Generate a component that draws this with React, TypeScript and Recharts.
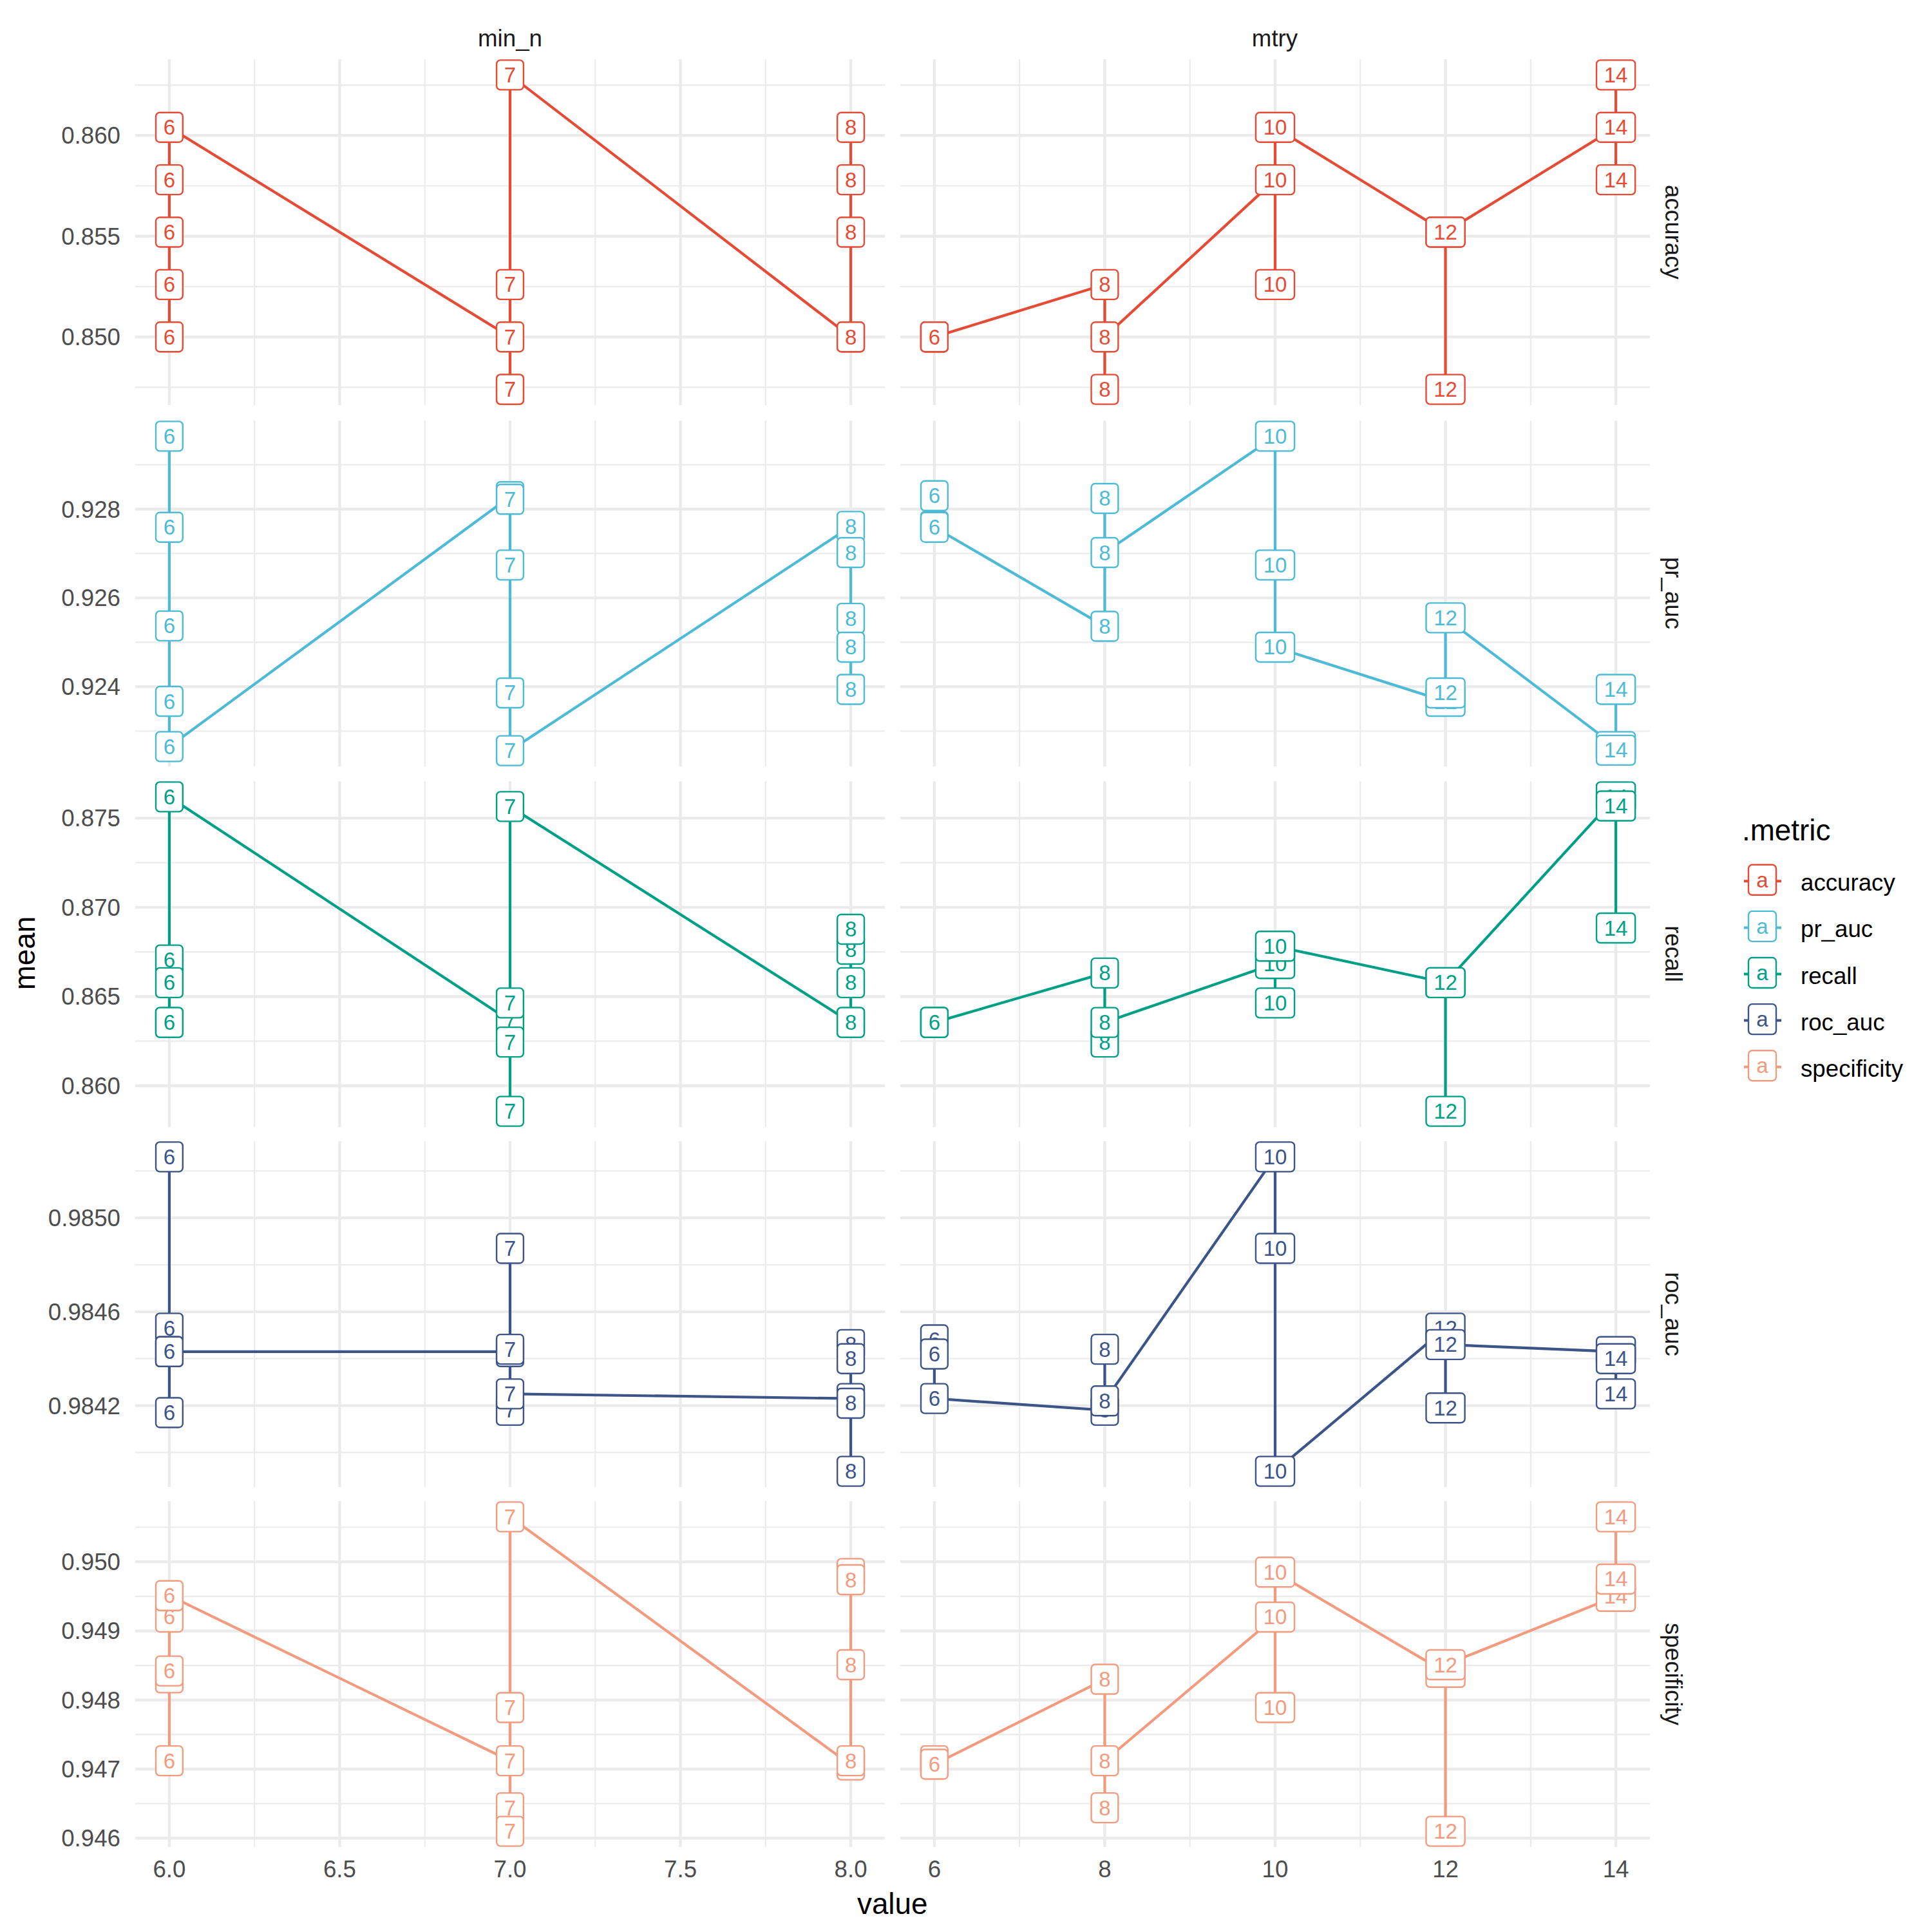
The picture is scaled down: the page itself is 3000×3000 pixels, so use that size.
import React from 'react';
import { LineChart, Line, XAxis, YAxis, CartesianGrid } from 'recharts';

const metrics = ['accuracy', 'pr_auc', 'recall', 'roc_auc', 'specificity'];
const metricColors = ['#E64B35', '#4DBBD5', '#00A087', '#3C5488', '#F39B7F'];
const params = ['min_n', 'mtry'];

const minNLevels = [6, 7, 8];
const mtryLevels = [6, 8, 10, 12, 14];
const minNTicks = [6, 6.5, 7, 7.5, 8];
const minNMinor = [6.25, 6.75, 7.25, 7.75];
const mtryTicks = [6, 8, 10, 12, 14];
const mtryMinor = [7, 9, 11, 13];

// one inner list per level, in the order the line passes through them
const accuracyMinN = [
  [0.85, 0.8526, 0.8552, 0.8578, 0.8604],
  [0.85, 0.8474, 0.8474, 0.8526, 0.863],
  [0.85, 0.85, 0.8552, 0.8578, 0.8604],
];
const accuracyMtry = [
  [0.85, 0.85, 0.85],
  [0.8526, 0.8474, 0.85],
  [0.8578, 0.8526, 0.8604],
  [0.8552, 0.8474, 0.8552],
  [0.8604, 0.863, 0.8578],
];
const prAucMinN = [
  [0.92964, 0.92759, 0.92537, 0.92367, 0.92265],
  [0.92828, 0.92822, 0.92674, 0.92386, 0.92256],
  [0.92761, 0.92702, 0.92554, 0.92489, 0.92394],
];
const prAucMtry = [
  [0.9283, 0.92761, 0.92759],
  [0.92536, 0.92824, 0.92702],
  [0.92964, 0.92674, 0.92489],
  [0.92367, 0.92386, 0.92555],
  [0.92265, 0.92394, 0.92257],
];
const recallMinN = [
  [0.86355, 0.86355, 0.86705, 0.86578, 0.87619],
  [0.86364, 0.86464, 0.86245, 0.85857, 0.87565],
  [0.86355, 0.86355, 0.86765, 0.86877, 0.86578],
];
const recallMtry = [
  [0.86355, 0.86355, 0.86355],
  [0.86632, 0.86245, 0.86355],
  [0.86685, 0.86464, 0.86782],
  [0.86578, 0.85857, 0.86578],
  [0.87619, 0.87568, 0.86884],
];
const rocAucMinN = [
  [0.98526, 0.98417, 0.98453, 0.98443, 0.98443],
  [0.98443, 0.98487, 0.98444, 0.98418, 0.98425],
  [0.98423, 0.98446, 0.9844, 0.98421, 0.98392],
];
const rocAucMtry = [
  [0.98448, 0.98442, 0.98423],
  [0.98418, 0.98444, 0.98422],
  [0.98526, 0.98487, 0.98392],
  [0.98453, 0.98419, 0.98446],
  [0.98443, 0.9844, 0.98425],
];
const specificityMinN = [
  [0.94712, 0.94832, 0.94842, 0.9492, 0.94951],
  [0.94712, 0.94789, 0.94644, 0.9461, 0.95065],
  [0.94706, 0.94712, 0.94851, 0.94983, 0.94974],
];
const specificityMtry = [
  [0.94712, 0.94712, 0.94707],
  [0.9483, 0.94644, 0.94712],
  [0.9492, 0.94789, 0.94985],
  [0.9484, 0.9461, 0.94851],
  [0.9495, 0.95065, 0.94975],
];

const accuracyTicks = [0.85, 0.855, 0.86];
const accuracyMinor = [0.8475, 0.8525, 0.8575, 0.8625];
const prAucTicks = [0.924, 0.926, 0.928];
const prAucMinor = [0.923, 0.925, 0.927, 0.929];
const recallTicks = [0.86, 0.865, 0.87, 0.875];
const recallMinor = [0.8625, 0.8675, 0.8725];
const rocAucTicks = [0.9842, 0.9846, 0.985];
const rocAucMinor = [0.984, 0.9844, 0.9848, 0.9852];
const specificityTicks = [0.946, 0.947, 0.948, 0.949, 0.95];
const specificityMinor = [0.9465, 0.9475, 0.9485, 0.9495, 0.9505];
const tickDigits = [3, 3, 3, 4, 3];

const panelData = [
  [accuracyMinN, accuracyMtry],
  [prAucMinN, prAucMtry],
  [recallMinN, recallMtry],
  [rocAucMinN, rocAucMtry],
  [specificityMinN, specificityMtry],
];
const yMajor = [accuracyTicks, prAucTicks, recallTicks, rocAucTicks, specificityTicks];
const yMinor = [accuracyMinor, prAucMinor, recallMinor, rocAucMinor, specificityMinor];

const FONT = '"Liberation Sans", Arial, Helvetica, sans-serif';
const PANEL_W = 1164;
const PANEL_H = 537;
const COL_LEFT = [210, 1397.5];
const ROW_TOP = [92, 652.5, 1212.5, 1772, 2331];
const PAD = 30;
const Y_AXIS_W = 200;
const X_AXIS_H = 80;
const GRID = '#EBEBEB';
const LABEL_FONT = 33;

const toPoints = (levels: number[], groups: number[][]) =>
  levels.flatMap((x, i) => groups[i].map((y) => ({ x, y })));

// ggplot-style 5% expansion on both sides
const expand = (vals: number[]): [number, number] => {
  const lo = Math.min(...vals);
  const hi = Math.max(...vals);
  const pad = (hi - lo) * 0.05;
  return [lo - pad, hi + pad];
};

function LabelMark(props: any) {
  const { cx, cy, payload, color } = props;
  if (cx == null || cy == null) return <g />;
  const text = String(payload.x);
  const w = 23.5 + 18.3 * text.length;
  const h = 46;
  return (
    <g>
      <rect x={cx - w / 2} y={cy - h / 2} width={w} height={h} rx={6} ry={6} fill="#fff" stroke={color} strokeWidth={2.4} />
      <text x={cx} y={cy} textAnchor="middle" dominantBaseline="central" fontSize={LABEL_FONT} fill={color} fontFamily={FONT}>
        {text}
      </text>
    </g>
  );
}

function Panel({ row, col }: { row: number; col: number }) {
  const levels = col === 0 ? minNLevels : mtryLevels;
  const xMajor = col === 0 ? minNTicks : mtryTicks;
  const xMinor = col === 0 ? minNMinor : mtryMinor;
  const points = toPoints(levels, panelData[row][col]);
  const yDomain = expand([...panelData[row][0].flat(), ...panelData[row][1].flat()]);
  const xDomain = expand(levels);
  const showY = col === 0;
  const showX = row === metrics.length - 1;
  const color = metricColors[row];
  const width = PANEL_W + (showY ? Y_AXIS_W : 0);
  const height = PANEL_H + 2 * PAD + (showX ? X_AXIS_H : 0);
  const tickStyle = { fill: '#4D4D4D', fontSize: 36.7, fontFamily: FONT };

  return (
    <div style={{ position: 'absolute', left: COL_LEFT[col] - (showY ? Y_AXIS_W : 0), top: ROW_TOP[row] - PAD }}>
      <LineChart width={width} height={height} margin={{ top: PAD, right: 0, bottom: PAD, left: 0 }}>
        <CartesianGrid horizontalValues={yMinor[row]} verticalValues={xMinor} stroke={GRID} strokeWidth={2.2} />
        <CartesianGrid horizontalValues={yMajor[row]} verticalValues={xMajor} stroke={GRID} strokeWidth={4.4} />
        <XAxis
          type="number"
          dataKey="x"
          domain={xDomain}
          ticks={xMajor}
          interval={0}
          hide={!showX}
          height={X_AXIS_H}
          axisLine={false}
          tickLine={false}
          tickSize={0}
          tickMargin={21}
          tick={tickStyle}
          tickFormatter={(v: number) => (col === 0 ? v.toFixed(1) : String(v))}
        />
        <YAxis
          type="number"
          domain={yDomain}
          ticks={yMajor[row]}
          interval={0}
          hide={!showY}
          width={Y_AXIS_W}
          axisLine={false}
          tickLine={false}
          tickSize={0}
          tickMargin={23}
          tick={tickStyle}
          tickFormatter={(v: number) => v.toFixed(tickDigits[row])}
        />
        <Line
          data={points}
          dataKey="y"
          type="linear"
          stroke={color}
          strokeWidth={4.2}
          activeDot={false}
          isAnimationActive={false}
          dot={(p: any) => <LabelMark key={`lbl-${row}-${col}-${p.index}`} {...p} color={color} />}
        />
      </LineChart>
    </div>
  );
}

function Decorations() {
  const legendTop = 1366.3;
  const legendStep = 72.1;
  return (
    <svg width={3000} height={3000} style={{ position: 'absolute', left: 0, top: 0 }} fontFamily={FONT}>
      <rect width={3000} height={3000} fill="#fff" />
      {params.map((p, c) => (
        <text key={p} x={COL_LEFT[c] + PANEL_W / 2} y={71.5} textAnchor="middle" fontSize={36.7} fill="#1A1A1A">
          {p}
        </text>
      ))}
      {metrics.map((m, r) => {
        const cy = ROW_TOP[r] + PANEL_H / 2;
        return (
          <text key={m} x={2586} y={cy} textAnchor="middle" fontSize={36.7} fill="#1A1A1A" transform={`rotate(90, 2586, ${cy})`}>
            {m}
          </text>
        );
      })}
      <text x={(COL_LEFT[0] + COL_LEFT[1] + PANEL_W) / 2} y={2972} textAnchor="middle" fontSize={45.8} fill="#000">
        value
      </text>
      <text x={54} y={1480} textAnchor="middle" fontSize={45.8} fill="#000" transform="rotate(-90, 54, 1480)">
        mean
      </text>
      <text x={2705} y={1305} fontSize={45.8} fill="#000">
        .metric
      </text>
      {metrics.map((m, i) => {
        const cy = legendTop + i * legendStep;
        const color = metricColors[i];
        return (
          <g key={m}>
            <line x1={2708} x2={2766} y1={cy + 2} y2={cy + 2} stroke={color} strokeWidth={4} />
            <rect x={2715} y={cy - 23.5} width={43} height={47} rx={6} ry={6} fill="#fff" stroke={color} strokeWidth={2.4} />
            <text x={2736.5} y={cy} textAnchor="middle" dominantBaseline="central" fontSize={LABEL_FONT} fill={color}>
              a
            </text>
            <text x={2796} y={cy + 17} fontSize={36.7} fill="#000">
              {m}
            </text>
          </g>
        );
      })}
    </svg>
  );
}

export default function App() {
  return (
    <div style={{ position: 'absolute', left: 0, top: 0, width: 3000, height: 3000, background: '#fff' }}>
      <Decorations />
      {metrics.map((m, r) =>
        params.map((p, c) => <Panel key={`${m}-${p}`} row={r} col={c} />)
      )}
    </div>
  );
}
